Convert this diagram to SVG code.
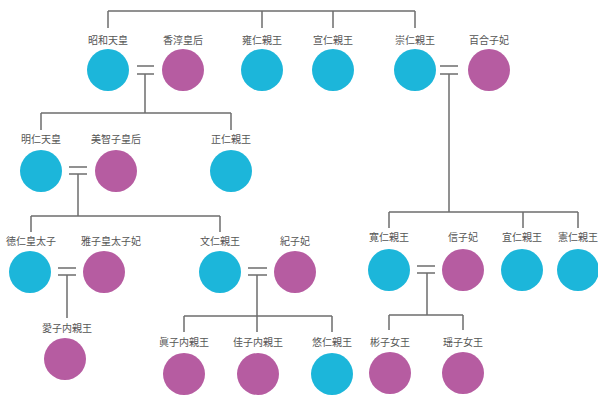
<svg xmlns="http://www.w3.org/2000/svg" width="598" height="396" viewBox="0 0 598 396">
  <style>
    .m { fill: #1cb6da; }
    .f { fill: #b65ca1; }
    .lbl { font-family: "Noto Sans CJK JP", "Noto Sans CJK SC", sans-serif; font-size: 10px; fill: #555; text-anchor: middle; }
    .ln { fill: none; stroke: #6e6e6e; stroke-width: 1.5; }
  </style>
  <rect width="598" height="396" fill="#ffffff"/>

  <!-- connectors: sibling bars, drops and marriage signs -->
  <g id="connectors" class="ln">
    <!-- generation 1 siblings -->
    <path d="M108 11 H415 M108 11 V28 M262 11 V28 M333 11 V28 M415 11 V28"/>
    <!-- Showa = Kojun -->
    <path d="M137 66 H154 M137 74 H154 M145 74 V113"/>
    <path d="M41 113 H231 M41 113 V130 M231 113 V130"/>
    <!-- Mikasa = Yuriko -->
    <path d="M440 66 H458 M440 74 H458 M449 74 V212"/>
    <path d="M389 212 H578 M389 212 V228 M523 212 V228 M578 212 V228"/>
    <!-- Akihito = Michiko -->
    <path d="M69 167 H87 M69 174 H87 M78 174 V216"/>
    <path d="M31 216 H220 M31 216 V232 M220 216 V232"/>
    <!-- Naruhito = Masako -->
    <path d="M58 268 H76 M58 275 H76 M67 275 V318"/>
    <!-- Fumihito = Kiko -->
    <path d="M248 268 H267 M248 275 H267 M257 275 V332"/>
    <path d="M184 316 H332 M184 316 V332 M332 316 V332"/>
    <!-- Tomohito = Nobuko -->
    <path d="M417 266 H435 M417 273 H435 M427 273 V315"/>
    <path d="M389 315 H463 M389 315 V330 M463 315 V330"/>
  </g>

  <!-- generation 1 -->
  <g id="showa"><text class="lbl" x="108" y="44">昭和天皇</text><circle class="m" cx="108" cy="70" r="21"/></g>
  <g id="kojun"><text class="lbl" x="183" y="44">香淳皇后</text><circle class="f" cx="183" cy="70" r="21"/></g>
  <g id="yasuhito"><text class="lbl" x="262" y="44">雍仁親王</text><circle class="m" cx="262" cy="70" r="21"/></g>
  <g id="nobuhito"><text class="lbl" x="333" y="44">宣仁親王</text><circle class="m" cx="333" cy="70" r="21"/></g>
  <g id="takahito"><text class="lbl" x="415" y="44">崇仁親王</text><circle class="m" cx="415" cy="70" r="21"/></g>
  <g id="yuriko"><text class="lbl" x="489" y="44">百合子妃</text><circle class="f" cx="489" cy="70" r="21"/></g>

  <!-- generation 2 -->
  <g id="akihito"><text class="lbl" x="41" y="143">明仁天皇</text><circle class="m" cx="41" cy="171" r="21"/></g>
  <g id="michiko"><text class="lbl" x="116" y="143">美智子皇后</text><circle class="f" cx="116" cy="171" r="21"/></g>
  <g id="masahito"><text class="lbl" x="231" y="143">正仁親王</text><circle class="m" cx="231" cy="171" r="21"/></g>
  <g id="tomohito"><text class="lbl" x="389" y="241">寛仁親王</text><circle class="m" cx="389" cy="270" r="21"/></g>
  <g id="nobuko"><text class="lbl" x="463" y="241">信子妃</text><circle class="f" cx="463" cy="270" r="21"/></g>
  <g id="yoshihito"><text class="lbl" x="522" y="241">宜仁親王</text><circle class="m" cx="522" cy="270" r="21"/></g>
  <g id="norihito"><text class="lbl" x="578" y="241">憲仁親王</text><circle class="m" cx="578" cy="270" r="21"/></g>

  <!-- generation 3 -->
  <g id="naruhito"><text class="lbl" x="31" y="245">徳仁皇太子</text><circle class="m" cx="30" cy="272" r="21"/></g>
  <g id="masako"><text class="lbl" x="111" y="245">雅子皇太子妃</text><circle class="f" cx="104" cy="272" r="21"/></g>
  <g id="fumihito"><text class="lbl" x="220" y="245">文仁親王</text><circle class="m" cx="220" cy="272" r="21"/></g>
  <g id="kiko"><text class="lbl" x="295" y="245">紀子妃</text><circle class="f" cx="295" cy="272" r="21"/></g>

  <!-- generation 4 -->
  <g id="aiko"><text class="lbl" x="67" y="332">愛子内親王</text><circle class="f" cx="65" cy="359" r="21"/></g>
  <g id="mako"><text class="lbl" x="184" y="346">眞子内親王</text><circle class="f" cx="184" cy="374" r="21"/></g>
  <g id="kako"><text class="lbl" x="258" y="346">佳子内親王</text><circle class="f" cx="258" cy="374" r="21"/></g>
  <g id="hisahito"><text class="lbl" x="332" y="346">悠仁親王</text><circle class="m" cx="332" cy="374" r="21"/></g>
  <g id="akiko"><text class="lbl" x="390" y="346">彬子女王</text><circle class="f" cx="390" cy="373" r="21"/></g>
  <g id="yoko"><text class="lbl" x="463" y="346">瑶子女王</text><circle class="f" cx="463" cy="373" r="21"/></g>
</svg>
